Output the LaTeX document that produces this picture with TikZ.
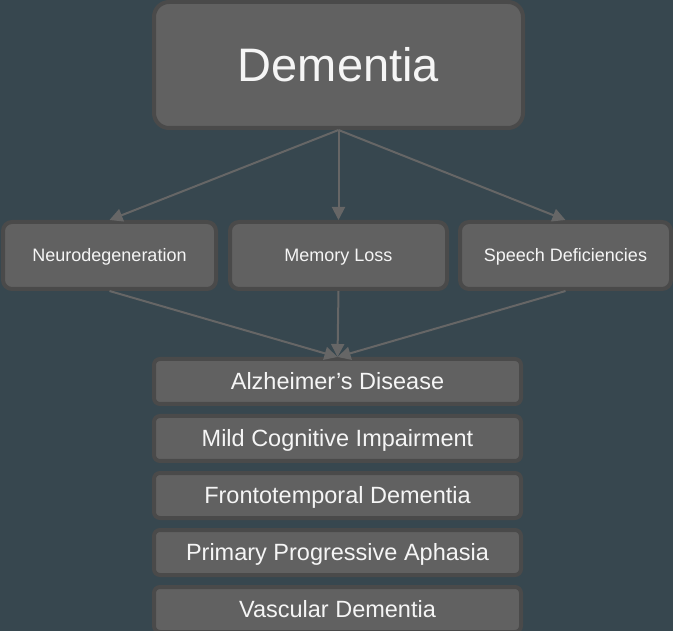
\documentclass[tikz,border=0pt]{standalone}
\usepackage{fontspec}
\setmainfont{Liberation Sans}
\usepackage{xcolor}
\usetikzlibrary{arrows.meta}

\definecolor{bgslate}{HTML}{37474F}
\definecolor{boxfill}{HTML}{616161}
\definecolor{boxline}{HTML}{4A4A4A}
\definecolor{arrgray}{HTML}{666666}

\begin{document}
\begin{tikzpicture}[x=1pt, y=-1pt,
    box/.style={draw=boxline, fill=boxfill, line width=4pt, text=white!96!black,
        inner sep=0pt, align=center, text depth=0pt},
    topbox/.style={box, rounded corners=15pt, minimum width=369pt, minimum height=126pt,
        font=\fontsize{47}{50}\selectfont, text height=33.7pt},
    midbox/.style={box, rounded corners=9pt, minimum height=67pt,
        font=\fontsize{18}{20}\selectfont, text height=12.9pt},
    listbox/.style={box, rounded corners=6pt, minimum width=367pt, minimum height=45pt,
        font=\fontsize{23.5}{26}\selectfont, text height=16.8pt},
    arr/.style={draw=arrgray, line width=2pt, -{Triangle[length=13pt,width=13pt]}}]
    % Background
    \fill[bgslate] (0,0) rectangle (673,631);
    \useasboundingbox (0,0) rectangle (673,631);

    % Top box
    \node[topbox] (dem) at (338.5,65) {Dementia};

    % Middle row
    \node[midbox, minimum width=213pt] (neuro) at (109.5,255.5) {Neurodegeneration};
    \node[midbox, minimum width=217pt] (memory) at (338.5,255.5) {Memory Loss};
    \node[midbox, minimum width=211pt] (speech) at (565.5,255.5) {Speech Deficiencies};

    % List of diseases
    \node[listbox] (alz) at (337.5,381.5) {Alzheimer’s Disease};
    \node[listbox] (mci) at (337.5,438.5) {Mild Cognitive Impairment};
    \node[listbox] (ftd) at (337.5,495.5) {Frontotemporal Dementia};
    \node[listbox] (ppa) at (337.5,552.5) {Primary Progressive Aphasia};
    \node[listbox] (vasc) at (337.5,609.5) {Vascular Dementia};

    % Arrows from the top box
    \draw[arr] (dem.south) -- (neuro.north);
    \draw[arr] (dem.south) -- (memory.north);
    \draw[arr] (dem.south) -- (speech.north);

    % Arrows into the list
    \draw[arr] (neuro.south) -- (alz.north);
    \draw[arr] (memory.south) -- (alz.north);
    \draw[arr] (speech.south) -- (alz.north);
\end{tikzpicture}
\end{document}
